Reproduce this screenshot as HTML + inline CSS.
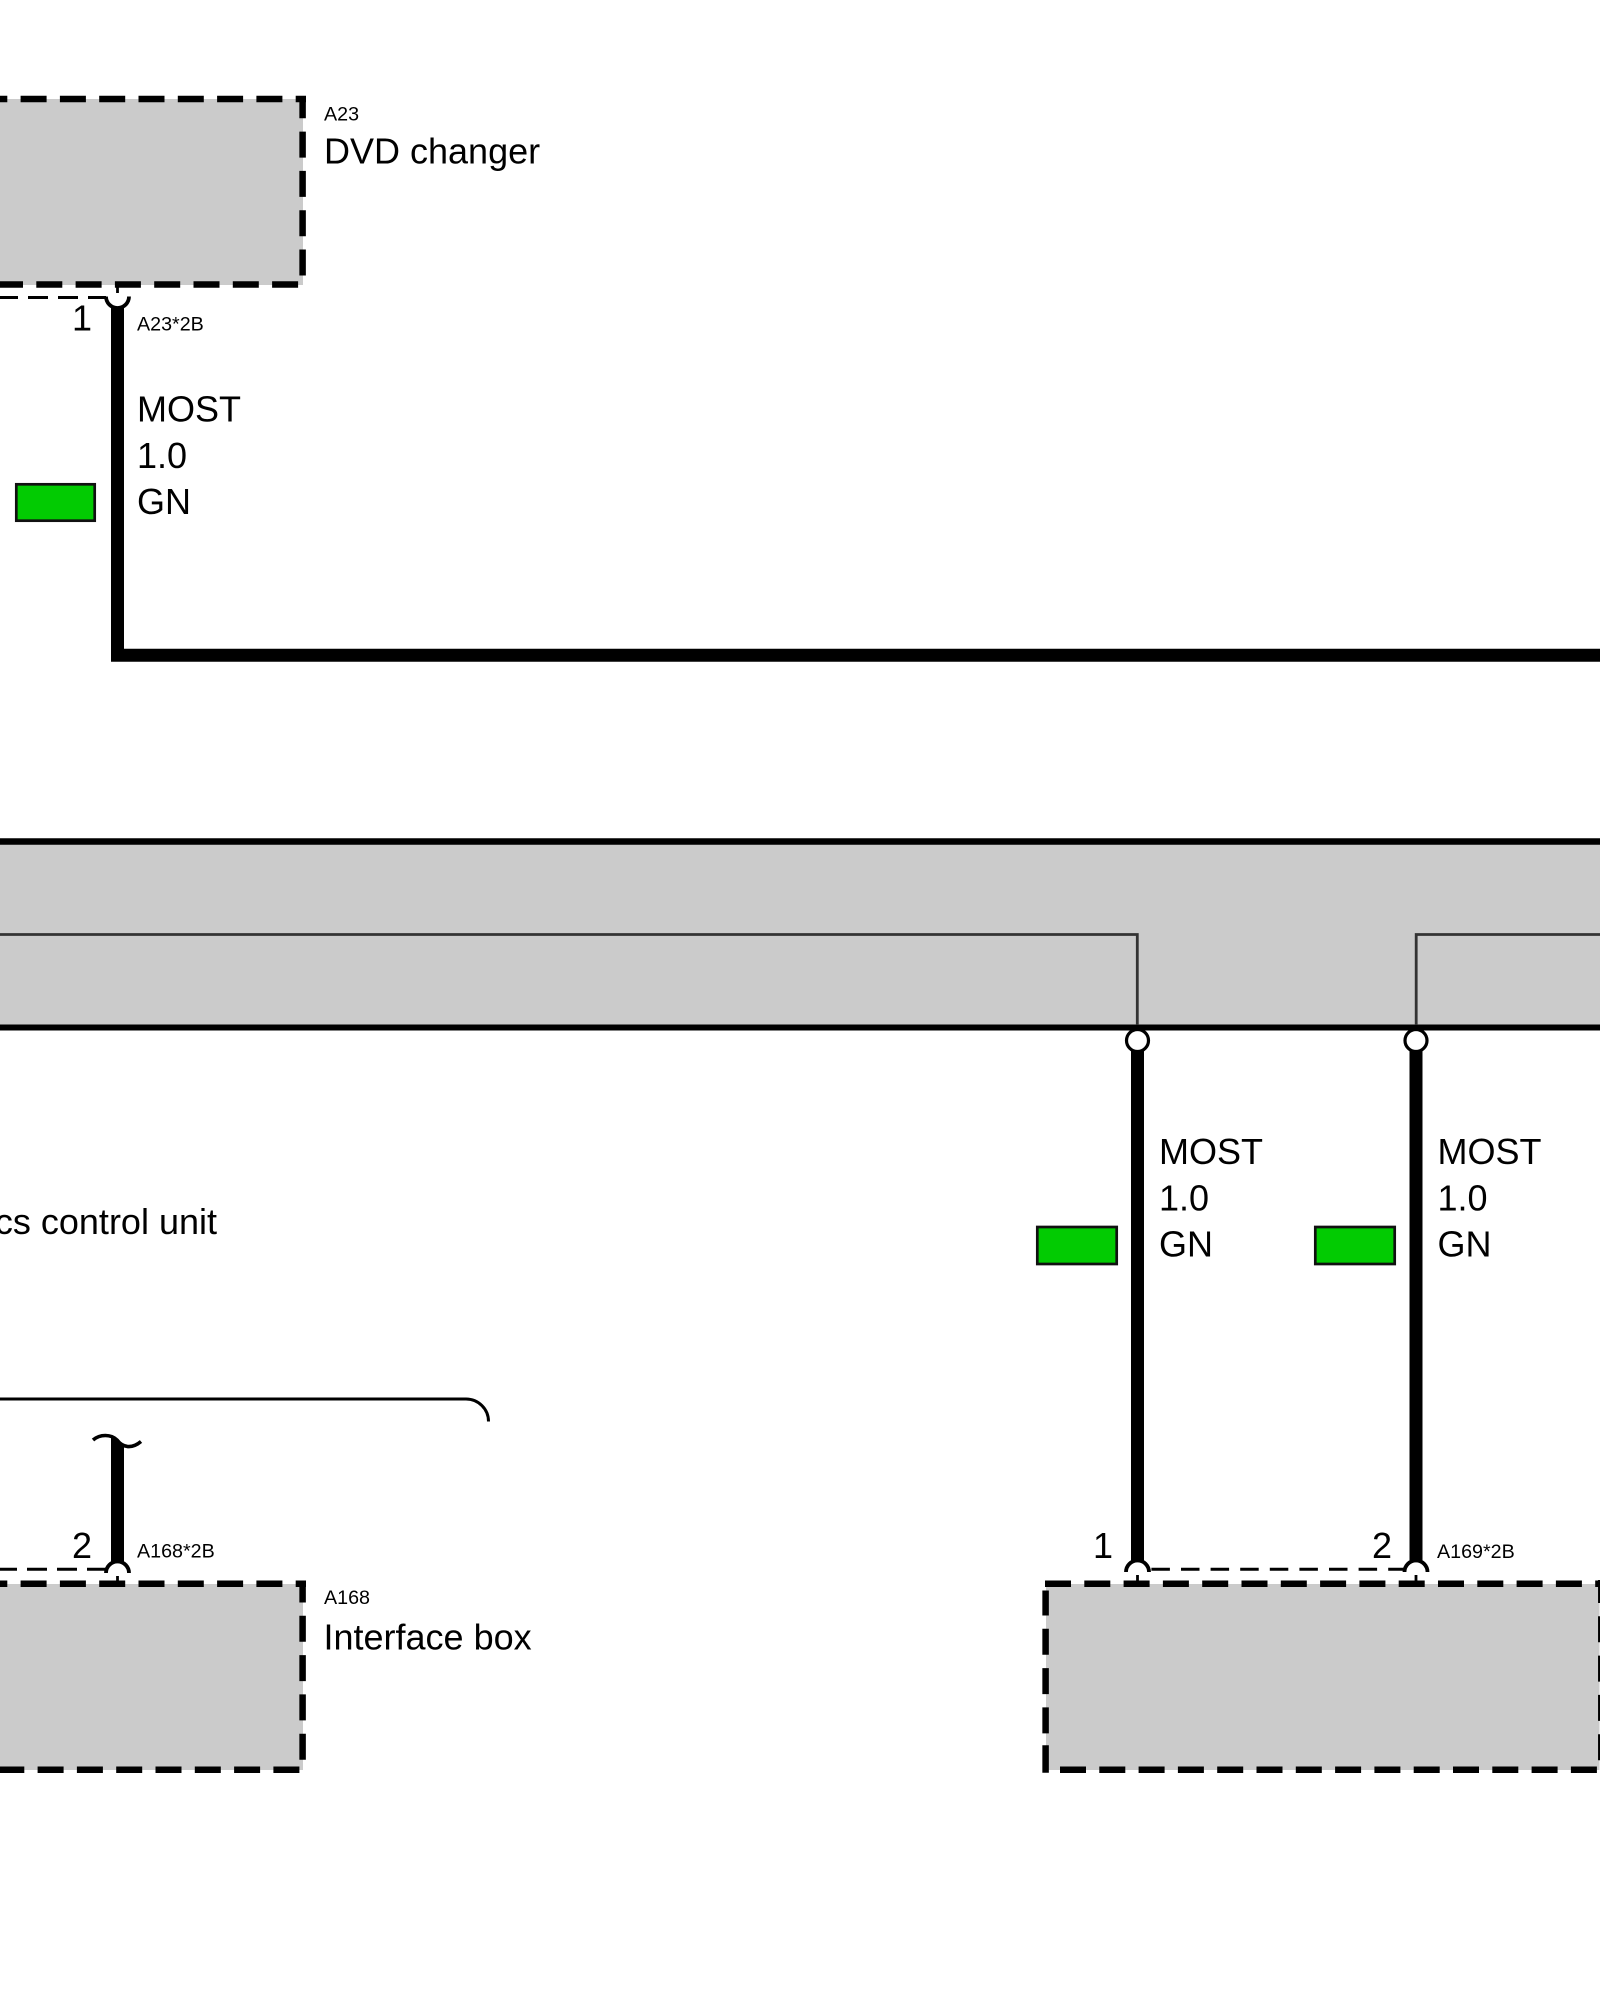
<!DOCTYPE html>
<html>
<head>
<meta charset="utf-8">
<style>
html,body{margin:0;padding:0;background:#fff;width:1600px;height:2000px;overflow:hidden}
svg{display:block}
text{font-family:"Liberation Sans",Arial,sans-serif;fill:#000}
.s{font-size:19.7px}
.b{font-size:36px}
.d{stroke:#000;stroke-width:6.5;stroke-dasharray:26 13.3;fill:none}
.t{stroke:#000;stroke-width:3;stroke-dasharray:20 10;fill:none}
.g{fill:#02cb02;stroke:#111;stroke-width:2.7}
.w{stroke:#000;stroke-width:13;fill:none}
.a{stroke:#000;stroke-width:3.8;fill:none}
.st{stroke:#000;stroke-width:2.8}
</style>
</head>
<body>
<svg width="1600" height="2000" viewBox="0 0 1600 2000" xmlns="http://www.w3.org/2000/svg">
<rect width="1600" height="2000" fill="#fff"/>

<!-- A23 box -->
<rect x="0" y="99" width="303" height="186" fill="#cbcbcb"/>
<line class="d" x1="-18.7" y1="99" x2="306" y2="99"/>
<line class="d" x1="302.6" y1="96" x2="302.6" y2="287.5" style="stroke-dashoffset:3.7"/>
<line class="d" x1="-3" y1="284.5" x2="299" y2="284.5"/>
<text class="s" x="324" y="120.7">A23</text>
<text class="b" x="324" y="163.5">DVD changer</text>

<!-- A23 connector -->
<line class="st" x1="117.5" y1="285" x2="117.5" y2="293"/>
<line class="t" x1="-2" y1="297.5" x2="106" y2="297.5"/>
<path class="a" d="M106 296.5A11.5 11.5 0 0 0 129 296.5"/>
<text class="b" x="72" y="330.5">1</text>
<text class="s" x="137" y="330.7">A23*2B</text>

<!-- Wire A23 -->
<path class="w" d="M117.5 307V655.3H1600"/>
<text class="b" x="137" y="421.7">MOST</text>
<text class="b" x="137" y="468">1.0</text>
<text class="b" x="137" y="514">GN</text>
<rect class="g" x="16.3" y="484.3" width="78.4" height="36.4"/>

<!-- Central band -->
<rect x="0" y="841" width="1600" height="186" fill="#cbcbcb"/>
<line x1="0" y1="841.5" x2="1600" y2="841.5" stroke="#000" stroke-width="6.5"/>
<line x1="0" y1="1027.5" x2="1600" y2="1027.5" stroke="#000" stroke-width="6"/>
<path d="M0 934.5H1137.3V1025" fill="none" stroke="#333" stroke-width="2.8"/>
<path d="M1600 934.5H1416.2V1025" fill="none" stroke="#333" stroke-width="2.8"/>

<!-- Vertical wires -->
<line class="w" x1="1137.5" y1="1050" x2="1137.5" y2="1562"/>
<line class="w" x1="1416" y1="1050" x2="1416" y2="1562"/>
<circle cx="1137.5" cy="1040.5" r="11" fill="#fff" stroke="#000" stroke-width="3.2"/>
<circle cx="1416" cy="1040.5" r="11" fill="#fff" stroke="#000" stroke-width="3.2"/>

<text class="b" x="1159" y="1164">MOST</text>
<text class="b" x="1159" y="1210.5">1.0</text>
<text class="b" x="1159" y="1256.5">GN</text>
<rect class="g" x="1037.3" y="1227" width="79.4" height="37"/>
<text class="b" x="1437.5" y="1164">MOST</text>
<text class="b" x="1437.5" y="1210.5">1.0</text>
<text class="b" x="1437.5" y="1256.5">GN</text>
<rect class="g" x="1315.3" y="1227" width="79.4" height="37"/>

<!-- Label -->
<text class="b" x="217" y="1234" text-anchor="end">cs control unit</text>

<!-- Bracket -->
<path d="M0 1399H466A22.5 22.5 0 0 1 488.5 1421.5" fill="none" stroke="#000" stroke-width="3"/>

<!-- A168 wire -->
<path d="M111 1437L124 1446V1562H111Z" fill="#000"/>
<path d="M93 1440C100 1434 111 1434 117 1440C123 1448 132 1449 141 1441.5" fill="none" stroke="#000" stroke-width="3.6"/>
<text class="b" x="72" y="1558">2</text>
<text class="s" x="137" y="1557.5">A168*2B</text>
<line class="t" x1="-3" y1="1569.3" x2="107" y2="1569.3"/>
<path class="a" d="M106 1573A11.5 11.5 0 0 1 129 1573"/>
<line class="st" x1="117.5" y1="1576" x2="117.5" y2="1582"/>

<!-- A168 box -->
<rect x="0" y="1584" width="303" height="186" fill="#cbcbcb"/>
<line class="d" x1="-18.7" y1="1583.7" x2="306" y2="1583.7"/>
<line class="d" x1="302.6" y1="1580.5" x2="302.6" y2="1772.7" style="stroke-dashoffset:4"/>
<line class="d" x1="-1.7" y1="1769.7" x2="300" y2="1769.7"/>
<text class="s" x="324" y="1604">A168</text>
<text class="b" x="323.5" y="1649.5">Interface box</text>

<!-- A169 connectors -->
<text class="b" x="1093" y="1558">1</text>
<text class="b" x="1372" y="1558">2</text>
<text class="s" x="1437" y="1558">A169*2B</text>
<line class="t" x1="1151.4" y1="1569.3" x2="1405" y2="1569.3" style="stroke-dasharray:18.5 11.1"/>
<path class="a" d="M1126 1572A11.5 11.5 0 0 1 1149 1572"/>
<path class="a" d="M1404.5 1572A11.5 11.5 0 0 1 1427.5 1572"/>
<line class="st" x1="1137.5" y1="1575" x2="1137.5" y2="1582"/>
<line class="st" x1="1416" y1="1575" x2="1416" y2="1582"/>

<!-- A169 box -->
<rect x="1046" y="1584" width="553.5" height="186" fill="#cbcbcb"/>
<line class="d" x1="1045" y1="1583.7" x2="1600" y2="1583.7"/>
<line class="d" x1="1601.3" y1="1580" x2="1601.3" y2="1772" style="stroke-dashoffset:3"/>
<line class="d" x1="1060" y1="1769.7" x2="1600" y2="1769.7"/>
<line class="d" x1="1045.6" y1="1772.7" x2="1045.6" y2="1580" style="stroke-dasharray:27.5 11.8 26 13.3 26 13.3 26 13.3 25 13.3"/>
</svg>
</body>
</html>
